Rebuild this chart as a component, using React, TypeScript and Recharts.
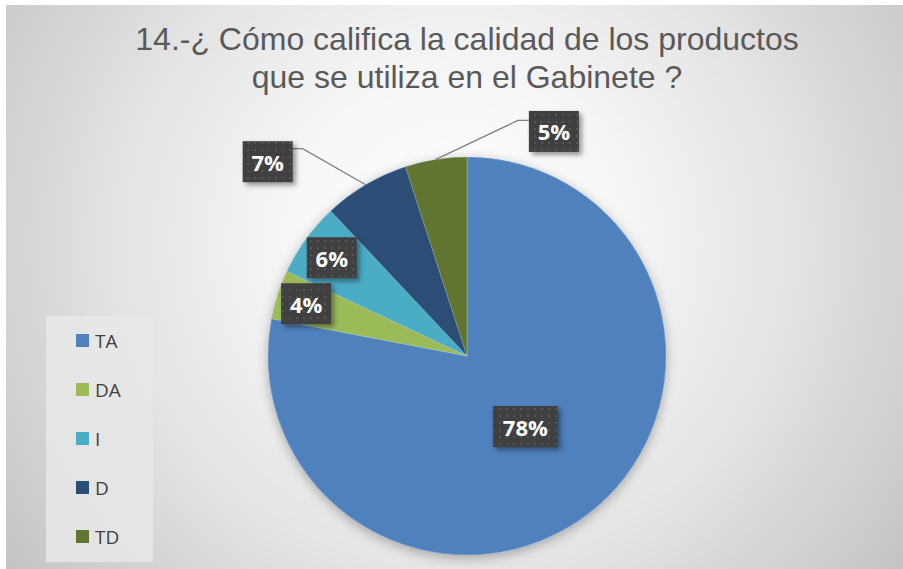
import { PieChart, Pie, Cell, Legend } from "recharts"

// Respuestas de la pregunta 14 (porcentaje)
const categories = ["TA", "DA", "I", "D", "TD"]
const percents = [78, 4, 6, 7, 5]
const colors = ["#4F81BD", "#9BBB59", "#4BACC6", "#2C4D75", "#5F7530"]
const titleLines = ["14.-¿ Cómo califica la calidad de los productos", "que se utiliza en el Gabinete ?"]

// where each data label sits: inside the slice (ratio of radius) or pulled out with a leader line
const labelPlacement: Array<
  { kind: "inside"; ratio: number } | { kind: "outside"; elbow: [number, number]; box: [number, number] }
> = [
  { kind: "inside", ratio: 0.46 },
  { kind: "inside", ratio: 0.85 },
  { kind: "inside", ratio: 0.84 },
  { kind: "outside", elbow: [-63, -36], box: [-98, -23] },
  { kind: "outside", elbow: [82, -39], box: [118, -28] },
]

const data = categories.map((name, i) => ({ name, value: percents[i] }))
const total = [{ name: "total", value: percents.reduce((a, b) => a + b, 0) }]

const RADIAN = Math.PI / 180
const W = 903
const H = 569

function renderLabel(props: any) {
  const { cx, cy, midAngle, outerRadius, index, value } = props
  const place = labelPlacement[index]
  const ex = cx + outerRadius * Math.cos(-midAngle * RADIAN)
  const ey = cy + outerRadius * Math.sin(-midAngle * RADIAN)
  const text = `${value}%`
  const bw = text.length > 2 ? 65 : 50
  const bh = 41
  let bx: number
  let by: number
  let line = null
  if (place.kind === "inside") {
    const r = outerRadius * place.ratio
    bx = cx + r * Math.cos(-midAngle * RADIAN)
    by = cy + r * Math.sin(-midAngle * RADIAN)
  } else {
    bx = ex + place.box[0]
    by = ey + place.box[1]
    const elx = ex + place.elbow[0]
    const ely = ey + place.elbow[1]
    const edgeX = place.box[0] < 0 ? bx + bw / 2 : bx - bw / 2
    line = (
      <polyline
        points={`${ex},${ey} ${elx},${ely} ${edgeX},${ely}`}
        fill="none"
        stroke="#7f7f7f"
        strokeWidth={1.3}
      />
    )
  }
  return (
    <g key={`lbl-${index}`}>
      {line}
      <g filter="url(#boxShadow)">
        <rect x={bx - bw / 2} y={by - bh / 2} width={bw} height={bh} fill="url(#dots)" />
      </g>
      <text
        x={bx}
        y={by}
        textAnchor="middle"
        dominantBaseline="central"
        fill="#ffffff"
        fontFamily="'Open Sans', sans-serif"
        fontWeight={700}
        fontSize={22}
      >
        {text}
      </text>
    </g>
  )
}

function renderLegend(props: any) {
  const items = (props.payload || [])
    .filter((p: any) => p.type !== "none")
    .sort((a: any, b: any) => categories.indexOf(a.value) - categories.indexOf(b.value))
  return (
    <div
      style={{
        width: 107,
        height: 246,
        background: "rgba(232,232,232,0.8)",
        boxSizing: "border-box",
      }}
    >
      {items.map((p: any) => (
        <div key={p.value} style={{ display: "flex", alignItems: "center", height: 49, paddingLeft: 30 }}>
          <span style={{ width: 13, height: 13, background: p.color, display: "inline-block", marginRight: 6 }} />
          <span style={{ fontFamily: "'Open Sans', sans-serif", fontSize: 19, color: "#404040" }}>{p.value}</span>
        </div>
      ))}
    </div>
  )
}

export default function App() {
  return (
    <div style={{ position: "absolute", left: 0, top: 0, width: W, height: H, background: "#ffffff" }}>
      <div
        style={{
          position: "absolute",
          left: 6,
          top: 5,
          right: 0,
          bottom: 0,
          background:
            "radial-gradient(circle farthest-corner at 50% 42%, #ffffff 0%, #f6f6f6 30%, #e4e4e4 60%, #c4c4c4 100%)",
        }}
      />
      <div
        style={{
          position: "absolute",
          left: 0,
          width: 934,
          top: 20,
          textAlign: "center",
          fontFamily: "'Liberation Sans', Arial, sans-serif",
          fontSize: 32,
          lineHeight: "38px",
          color: "#595959",
        }}
      >
        {titleLines.map((t) => (
          <div key={t}>{t}</div>
        ))}
      </div>
      <div style={{ position: "absolute", left: 0, top: 0 }}>
        <PieChart width={W} height={H} margin={{ top: 0, right: 0, bottom: 0, left: 0 }}>
          <defs>
            <filter id="pieShadow" x="-20%" y="-20%" width="140%" height="140%">
              <feDropShadow dx={0} dy={3} stdDeviation={6} floodColor="#000" floodOpacity={0.3} />
            </filter>
            <filter id="boxShadow" x="-30%" y="-30%" width="160%" height="160%">
              <feDropShadow dx={3} dy={3} stdDeviation={2.5} floodColor="#000" floodOpacity={0.4} />
            </filter>
            <pattern id="dots" width={7} height={7} patternUnits="userSpaceOnUse">
              <rect width={7} height={7} fill="#3f3f3f" />
              <rect x={2} y={2} width={2} height={2} fill="#555555" />
            </pattern>
          </defs>
          <Pie
            data={total}
            dataKey="value"
            cx={467}
            cy={356}
            outerRadius={199}
            startAngle={90}
            endAngle={-270}
            fill="#4F81BD"
            stroke="none"
            legendType="none"
            style={{ filter: "url(#pieShadow)" }}
            isAnimationActive={false}
          />
          <Pie
            data={data}
            dataKey="value"
            nameKey="name"
            cx={467}
            cy={356}
            outerRadius={199}
            startAngle={90}
            endAngle={-270}
            stroke="#ffffff"
            strokeOpacity={0.35}
            strokeWidth={0.6}
            label={renderLabel}
            labelLine={false}
            isAnimationActive={false}
          >
            {data.map((d, i) => (
              <Cell key={d.name} fill={colors[i]} />
            ))}
          </Pie>
          <Legend
            layout="vertical"
            content={renderLegend}
            wrapperStyle={{ position: "absolute", left: 46, top: 316, width: 107, height: 246 }}
          />
        </PieChart>
      </div>
    </div>
  )
}
